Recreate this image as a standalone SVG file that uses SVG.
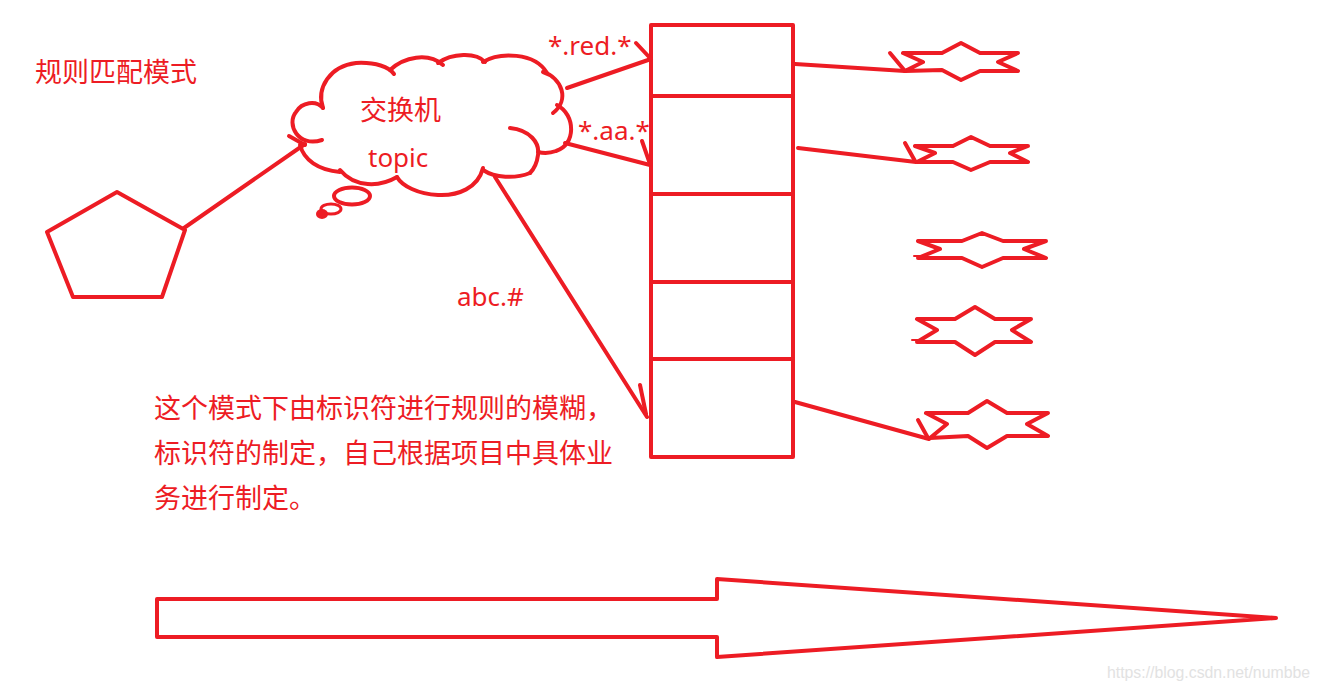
<svg xmlns="http://www.w3.org/2000/svg" width="1319" height="690" viewBox="0 0 1319 690">
<style>
.s{fill:none;stroke:#ed1c24;stroke-width:4;stroke-linecap:round;stroke-linejoin:round}
.t{fill:#ed1c24;font-family:"Noto Sans CJK SC","Noto Sans",sans-serif;font-size:27px}
.l{fill:#ed1c24;font-family:"Noto Sans","Open Sans",sans-serif;font-size:26px}
</style>
<rect width="1319" height="690" fill="#ffffff"/>
<text class="t" x="35" y="82">规则匹配模式</text>
<g id="producer">
<polygon class="s" points="117,192 185,230 162,297 73,297 47,232"/>
</g>
<g id="exchange">
<path class="s" d="M323,108 C316,88 330,66 356,63 C376,62 389,67 394,74"/>
<path class="s" d="M390,70 C404,57 428,52 443,65"/>
<path class="s" d="M438,63 C452,53 476,52 485,62"/>
<path class="s" d="M483,62 C499,52 535,52 547,73"/>
<path class="s" d="M543,72 C562,78 570,100 553,113"/>
<path class="s" d="M557,105 C576,115 576,145 556,151 C548,154 542,153 538,152"/>
<path class="s" d="M510,128 C530,130 540,143 538,155 C537,163 534,169 530,173"/>
<path class="s" d="M530,173 C515,179 495,178 483,170"/>
<path class="s" d="M483,168 C478,188 458,196 438,195 C418,194 402,186 397,177"/>
<path class="s" d="M397,177 C380,187 355,188 340,170"/>
<path class="s" d="M322,140 C298,148 286,124 296,112 C302,102 316,100 323,108"/>
<path class="s" d="M300,145 C304,160 318,170 340,172"/>
<ellipse class="s" cx="352" cy="196" rx="18" ry="8.5"/>
<ellipse class="s" cx="331" cy="209" rx="10" ry="5" style="stroke-width:3"/>
<ellipse cx="322" cy="214" rx="6" ry="5" fill="#ed1c24"/>
<text class="t" x="360" y="120">交换机</text>
<text class="l" x="368" y="167">topic</text>
</g>
<g id="queues">
<rect class="s" x="651" y="25" width="142" height="432"/>
<line class="s" x1="651" y1="96" x2="793" y2="96"/>
<line class="s" x1="651" y1="194" x2="793" y2="194"/>
<line class="s" x1="651" y1="282" x2="793" y2="282"/>
<line class="s" x1="651" y1="359" x2="793" y2="359"/>
</g>
<g id="consumer1"><polygon class="s" points="903,53 942,53 961,43 980,53 1018,53 998,62 1018,71 980,71 961,80 942,70 905,71 923,62"/></g>
<g id="consumer2"><polygon class="s" points="915,146 953,146 971,137 990,146 1028,146 1010,153 1028,162 990,162 971,170 953,162 917,162 935,153"/></g>
<g id="consumer3"><polygon class="s" points="918,241 962,241 982,233 1003,241 1046,241 1024,249 1046,258 1003,258 982,267 962,258 918,258 940,249"/></g>
<g id="consumer4"><polygon class="s" points="917,319 955,319 975,307 995,319 1031,319 1012,330 1031,342 995,342 975,355 955,342 917,342 937,330"/></g>
<g id="consumer5"><polygon class="s" points="926,413 968,413 987,401 1007,413 1048,413 1027,424 1048,436 1007,436 987,448 968,436 930,438 947,424"/></g>
<g id="connectors">
<line class="s" x1="184" y1="228" x2="305" y2="144"/>
<line class="s" x1="289" y1="136" x2="305" y2="145"/>
<line class="s" x1="567" y1="88" x2="651" y2="59"/>
<line class="s" x1="636" y1="43" x2="651" y2="59"/>
<line class="s" x1="565" y1="143" x2="650" y2="165"/>
<line class="s" x1="642" y1="141" x2="650" y2="164"/>
<line class="s" x1="495" y1="177" x2="647" y2="417"/>
<line class="s" x1="640" y1="385" x2="646" y2="414"/>
<line class="s" x1="795" y1="64" x2="905" y2="71"/>
<line class="s" x1="890" y1="53" x2="905" y2="71"/>
<line class="s" x1="798" y1="148" x2="916" y2="162"/>
<line class="s" x1="905" y1="143" x2="915" y2="161"/>
<line class="s" x1="795" y1="402" x2="929" y2="439"/>
<line class="s" x1="918" y1="420" x2="928" y2="438"/>
<line class="s" x1="914" y1="256" x2="920" y2="256" style="stroke-width:2"/>
<line class="s" x1="912" y1="340" x2="918" y2="340" style="stroke-width:2"/>
</g>
<text class="l" x="548" y="55">*.red.*</text>
<text class="l" x="578" y="140">*.aa.*</text>
<text class="l" x="457" y="306">abc.#</text>
<g id="note">
<text class="t" x="154" y="418">这个模式下由标识符进行规则的模糊，</text>
<text class="t" x="154" y="463">标识符的制定，自己根据项目中具体业</text>
<text class="t" x="154" y="508">务进行制定。</text>
</g>
<g id="flow-arrow">
<polygon class="s" points="157,599 717,599 717,579 1276,618 717,657 717,637 157,637"/>
</g>
<text x="1107" y="678" fill="#e2e2e2" font-family="Liberation Sans, Arial, sans-serif" font-size="16" textLength="203" lengthAdjust="spacingAndGlyphs">https://blog.csdn.net/numbbe</text>
</svg>
